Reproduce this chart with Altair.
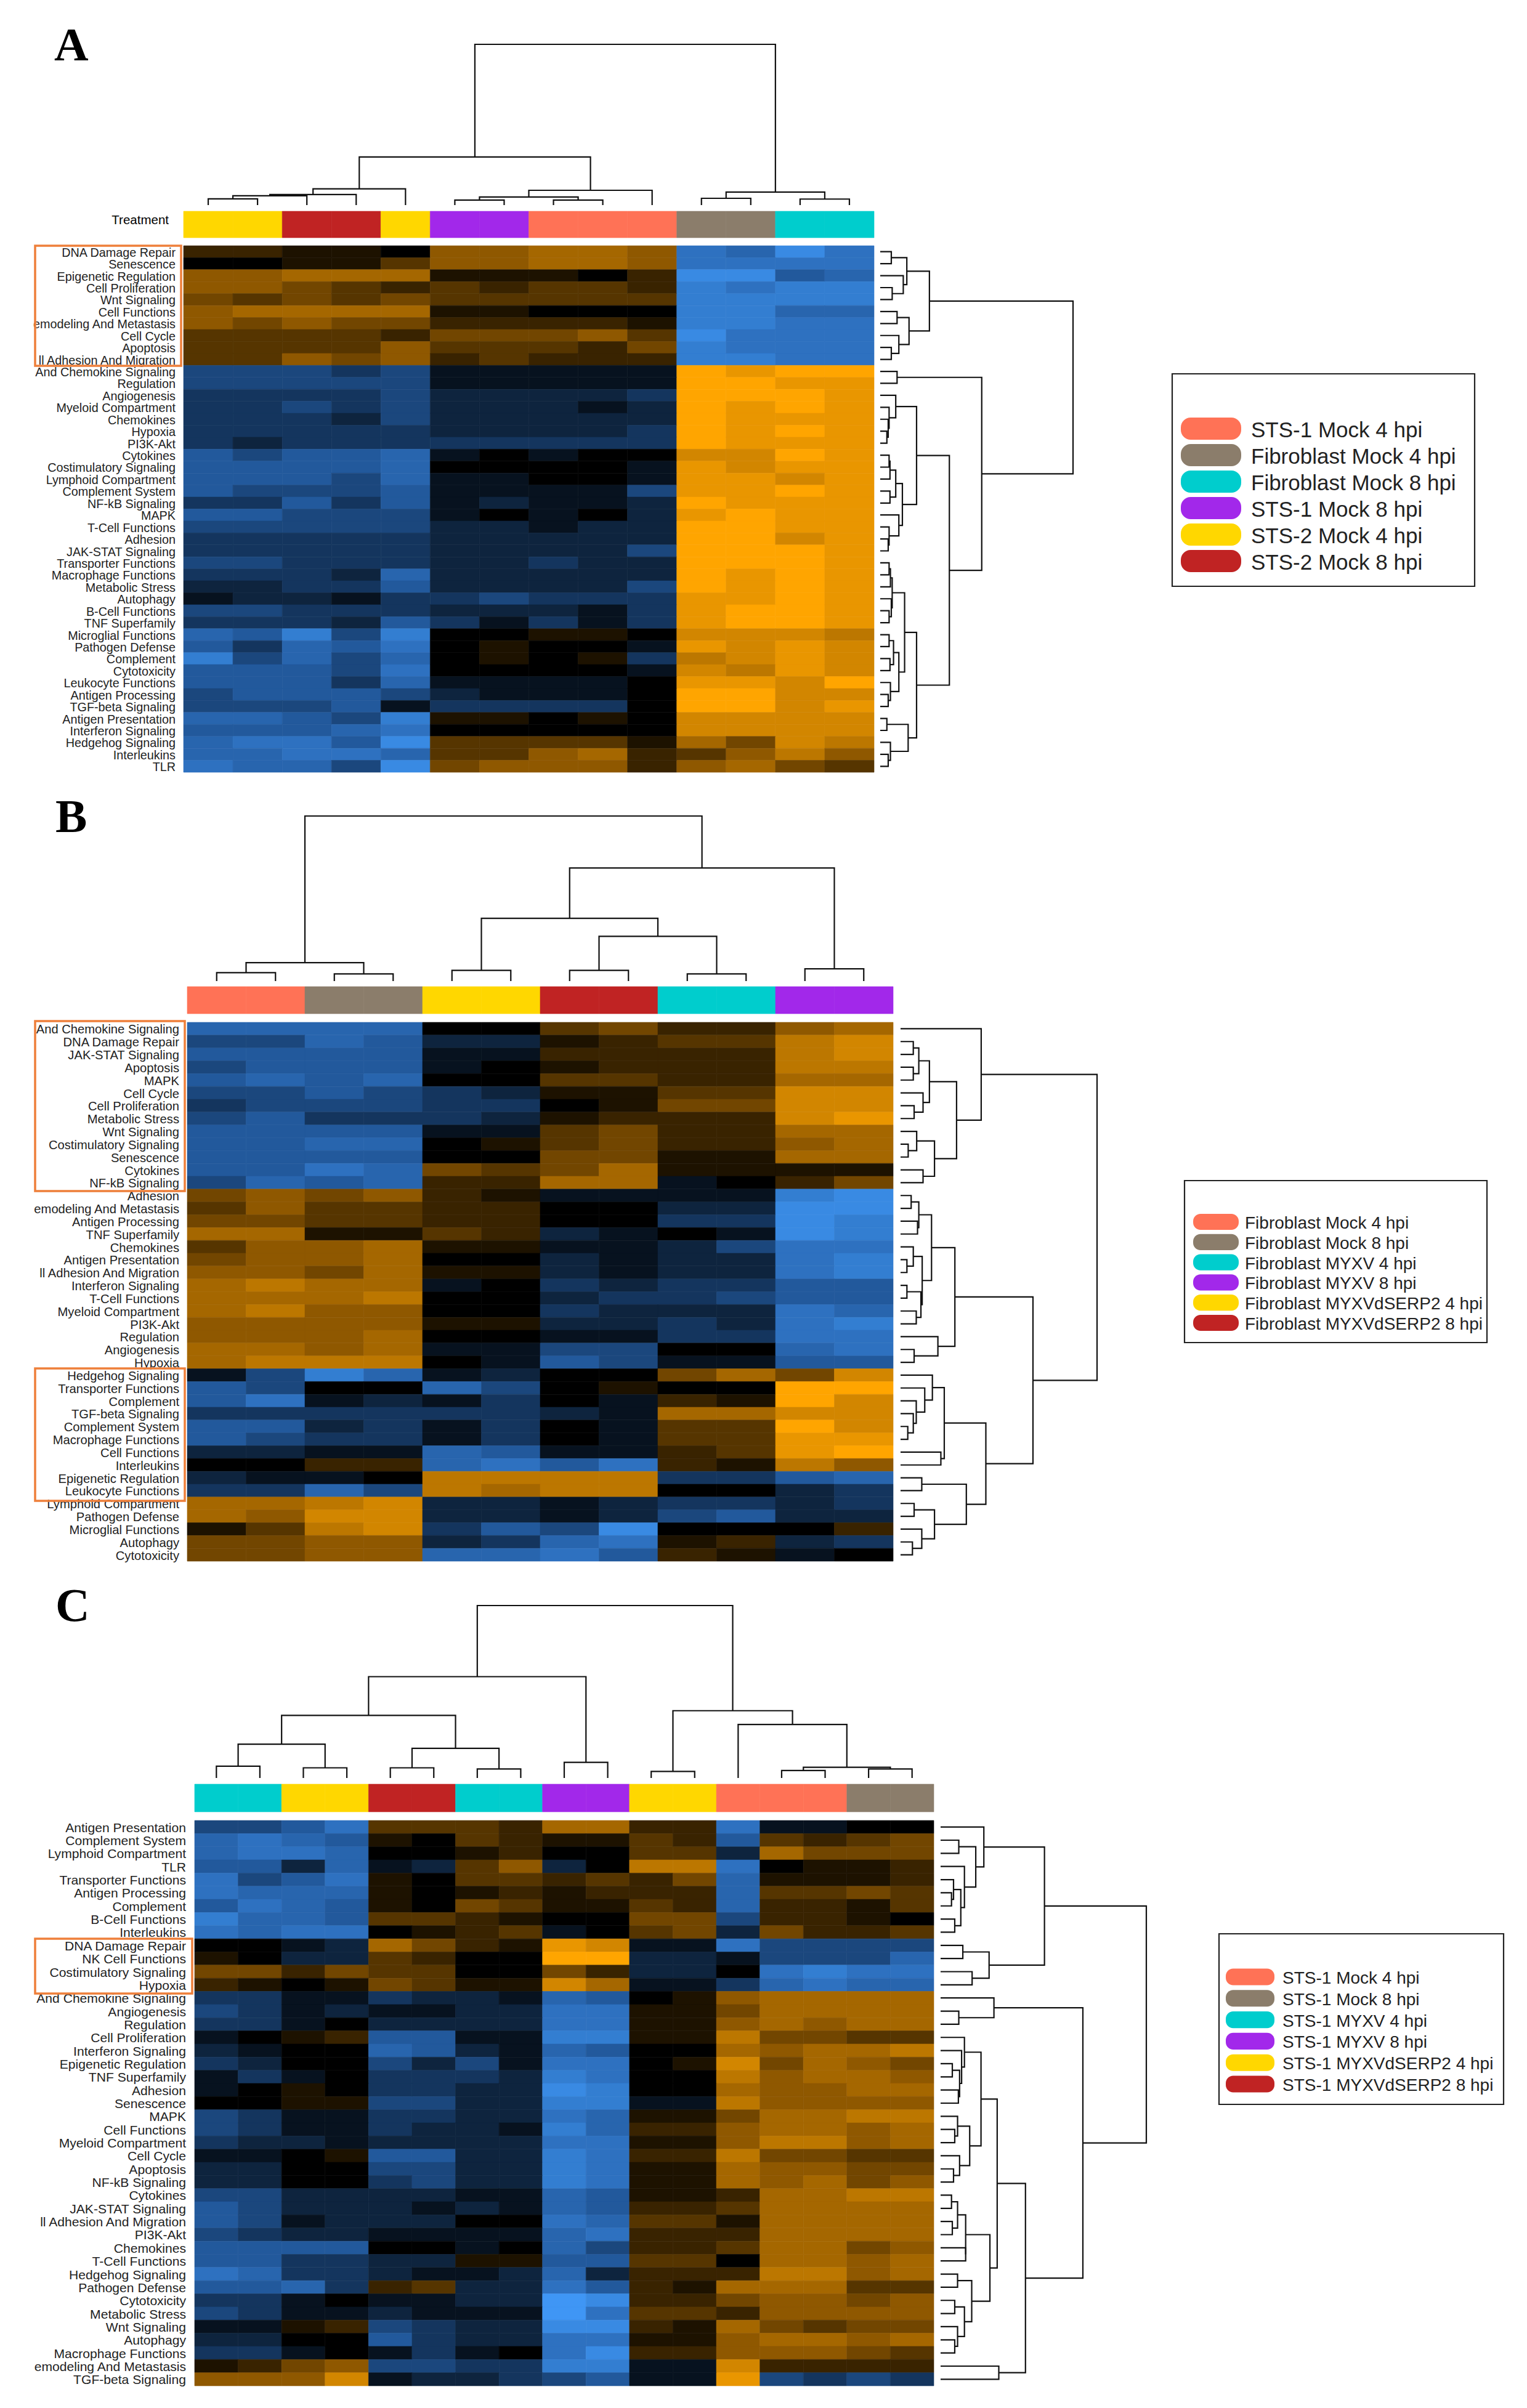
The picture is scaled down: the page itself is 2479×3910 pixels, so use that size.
import altair as alt
import pandas as pd

# ---------- palette ----------
SALMON, BROWN, CYAN, PURPLE, YELLOW, RED = "#FF7256", "#8B7D6B", "#00CDCD", "#A228EA", "#FFD700", "#C02323"
PALETTE = [SALMON, BROWN, CYAN, PURPLE, YELLOW, RED]
HEAT_DOMAIN = [-10, -5, 0, 5, 10]
HEAT_RANGE = ["#3F96F5", "#22599C", "#000000", "#8F5800", "#FFA500"]

# ---------- panel A ----------
A_ROWS = ["DNA Damage Repair", "Senescence", "Epigenetic Regulation", "Cell Proliferation", "Wnt Signaling",
          "Cell Functions", "emodeling And Metastasis", "Cell Cycle", "Apoptosis", "ll Adhesion And Migration",
          "And Chemokine Signaling", "Regulation", "Angiogenesis", "Myeloid Compartment", "Chemokines", "Hypoxia",
          "PI3K-Akt", "Cytokines", "Costimulatory Signaling", "Lymphoid Compartment", "Complement System",
          "NF-kB Signaling", "MAPK", "T-Cell Functions", "Adhesion", "JAK-STAT Signaling", "Transporter Functions",
          "Macrophage Functions", "Metabolic Stress", "Autophagy", "B-Cell Functions", "TNF Superfamily",
          "Microglial Functions", "Pathogen Defense", "Complement", "Cytotoxicity", "Leukocyte Functions",
          "Antigen Processing", "TGF-beta Signaling", "Antigen Presentation", "Interferon Signaling",
          "Hedgehog Signaling", "Interleukins", "TLR"]
A_COLS = [YELLOW, YELLOW, RED, RED, YELLOW, PURPLE, PURPLE, SALMON, SALMON, SALMON, BROWN, BROWN, CYAN, CYAN]
A_VALUES = [
    [2,2,1,1,0,5,5,6,6,5,-7,-6,-9,-7],
    [0,0,1,1,3,5,5,6,6,5,-7,-7,-7,-7],
    [5,5,6,6,6,1,1,1,0,2,-9,-9,-5,-6],
    [5,5,4,3,2,3,2,3,3,2,-8,-7,-8,-8],
    [4,3,4,3,4,3,3,3,3,3,-8,-8,-8,-8],
    [5,6,6,6,6,1,1,0,0,0,-8,-8,-6,-6],
    [5,4,5,4,4,2,2,2,2,1,-8,-8,-7,-7],
    [3,3,3,3,2,4,4,4,5,3,-9,-7,-7,-7],
    [3,3,3,3,5,3,3,3,2,4,-8,-7,-7,-7],
    [3,3,5,4,5,2,3,2,2,2,-8,-8,-7,-7],
    [-4,-4,-4,-3,-4,-1,-1,-1,-1,-1,10,9,10,10],
    [-4,-4,-4,-4,-4,-1,-1,-1,-1,-1,10,10,9,9],
    [-3,-3,-3,-3,-4,-2,-2,-2,-2,-3,10,10,10,9],
    [-3,-3,-4,-3,-4,-2,-2,-2,-1,-2,10,9,10,9],
    [-3,-3,-3,-2,-4,-2,-2,-2,-2,-2,10,9,9,9],
    [-3,-3,-3,-3,-3,-2,-2,-2,-2,-3,10,9,10,9],
    [-3,-2,-3,-3,-3,-3,-3,-3,-3,-3,10,9,9,9],
    [-5,-4,-5,-5,-6,-1,0,-1,0,0,8,8,10,9],
    [-5,-5,-5,-5,-6,0,0,0,0,-1,9,8,9,9],
    [-5,-5,-5,-4,-6,-1,-1,0,0,-1,9,9,8,9],
    [-5,-4,-4,-4,-5,-1,-1,-1,-1,-4,9,9,10,9],
    [-3,-3,-5,-3,-5,-1,-2,-1,-1,-2,10,9,9,9],
    [-5,-5,-4,-4,-4,-1,0,-1,0,-2,9,10,9,9],
    [-4,-4,-4,-4,-4,-2,-2,-1,-2,-2,10,10,9,9],
    [-3,-3,-3,-3,-3,-2,-2,-2,-2,-2,10,10,8,9],
    [-3,-3,-3,-3,-3,-2,-2,-2,-2,-4,10,10,10,9],
    [-4,-4,-3,-3,-3,-2,-2,-3,-2,-2,10,10,10,9],
    [-3,-3,-3,-2,-6,-2,-2,-2,-2,-2,10,9,10,9],
    [-2,-2,-3,-3,-5,-2,-2,-2,-2,-4,10,9,10,9],
    [-1,-2,-2,-1,-3,-3,-4,-3,-3,-3,9,9,10,9],
    [-4,-4,-3,-3,-3,-2,-2,-2,-1,-3,9,10,10,9],
    [-3,-3,-3,-2,-5,-3,-1,-3,-1,-3,9,10,10,9],
    [-6,-5,-8,-4,-8,0,0,1,1,0,8,8,8,7],
    [-5,-3,-6,-5,-7,0,1,0,0,-1,9,8,9,8],
    [-8,-4,-6,-4,-6,0,1,0,1,-3,7,8,9,8],
    [-5,-5,-5,-4,-7,0,0,0,0,-1,8,7,9,8],
    [-5,-5,-5,-3,-6,-1,-1,-1,-1,0,9,9,8,10],
    [-4,-5,-5,-5,-4,-2,-1,-1,-1,0,10,10,8,8],
    [-4,-4,-4,-5,-1,-3,-3,-3,-3,0,10,10,8,9],
    [-6,-6,-5,-4,-8,1,1,0,1,0,8,8,8,8],
    [-5,-5,-5,-6,-7,0,0,0,0,0,8,8,8,8],
    [-6,-7,-7,-5,-9,3,3,3,3,1,6,4,8,7],
    [-6,-6,-7,-7,-6,3,3,5,6,2,3,5,7,5],
    [-7,-6,-6,-4,-9,4,5,5,5,2,5,6,4,3],
]
A_TOP_TREE = [641,
              [192, [65, [42, [37, [25, 0, 1], 2], 3], 4], [59, [32, [20, 5, 6], [20, 7, 8]], 9]],
              [52, [27, 10, 11], [24, 12, 13]]]
A_ROW_TREE = [435,
              [111, [60, [25, 0, 1], [52, 2, [27, 3, 4]]], [65, [38, 5, 6], [42, 7, [25, 8, 9]]]],
              [229, [38, 10, 11],
               [156,
                [82, [35, 12, [20, 13, [18, 14, [15, 15, 16]]]],
                 [50, [35, [22, [20, 17, 18], 19], [22, 20, 21]], [42, 22, [20, 23, [18, 24, 25]]]]],
                [82,
                 [55, [27, [23, [20, 26, 27], 28], [25, 29, [20, 30, 31]]],
                  [42, [30, [20, 32, 33], [22, 34, 35]], [23, 36, [18, 37, 38]]]],
                 [63, [15, 39, 40], [23, 41, [18, 42, 43]]]]]]]
A_LEGEND = ["STS-1 Mock 4 hpi", "Fibroblast Mock 4 hpi", "Fibroblast Mock 8 hpi", "STS-1 Mock 8 hpi",
            "STS-2 Mock 4 hpi", "STS-2 Mock 8 hpi"]
A_LEGEND_COLORS = [SALMON, BROWN, CYAN, PURPLE, YELLOW, RED]

# ---------- panel B ----------
B_ROWS = ["And Chemokine Signaling", "DNA Damage Repair", "JAK-STAT Signaling", "Apoptosis", "MAPK", "Cell Cycle",
          "Cell Proliferation", "Metabolic Stress", "Wnt Signaling", "Costimulatory Signaling", "Senescence",
          "Cytokines", "NF-kB Signaling", "Adhesion", "emodeling And Metastasis", "Antigen Processing",
          "TNF Superfamily", "Chemokines", "Antigen Presentation", "ll Adhesion And Migration",
          "Interferon Signaling", "T-Cell Functions", "Myeloid Compartment", "PI3K-Akt", "Regulation",
          "Angiogenesis", "Hypoxia", "Hedgehog Signaling", "Transporter Functions", "Complement",
          "TGF-beta Signaling", "Complement System", "Macrophage Functions", "Cell Functions", "Interleukins",
          "Epigenetic Regulation", "Leukocyte Functions", "Lymphoid Compartment", "Pathogen Defense",
          "Microglial Functions", "Autophagy", "Cytotoxicity"]
B_COLS = [SALMON, SALMON, BROWN, BROWN, YELLOW, YELLOW, RED, RED, CYAN, CYAN, PURPLE, PURPLE]
B_VALUES = [
    [-6,-6,-6,-6,0,0,3,4,2,2,5,6],
    [-4,-4,-6,-5,-2,-2,1,2,3,3,7,8],
    [-5,-5,-5,-5,-1,-1,2,2,2,2,7,8],
    [-4,-5,-5,-5,-1,0,1,2,2,2,7,7],
    [-5,-6,-5,-6,0,0,3,3,2,2,6,6],
    [-4,-4,-5,-4,-3,-2,1,1,3,3,8,8],
    [-3,-4,-4,-4,-3,-3,0,1,4,4,8,8],
    [-4,-5,-3,-3,-3,-2,1,2,2,2,8,9],
    [-5,-5,-5,-5,-1,-1,3,4,2,2,6,6],
    [-5,-5,-6,-6,0,1,3,4,2,2,5,6],
    [-5,-5,-5,-5,0,0,4,4,1,1,6,6],
    [-5,-5,-7,-6,4,3,4,6,1,1,1,1],
    [-4,-6,-5,-6,2,2,6,6,-1,0,2,4],
    [4,5,4,5,2,1,-1,-1,-1,-1,-8,-9],
    [3,5,3,3,2,2,0,0,-2,-2,-9,-9],
    [4,4,3,3,2,2,0,0,-3,-3,-9,-8],
    [6,6,1,1,3,2,-2,-1,0,-1,-9,-8],
    [3,5,5,6,1,1,-1,-1,-2,-4,-7,-7],
    [4,5,5,6,0,0,-2,-1,-2,-2,-7,-8],
    [5,5,4,6,1,1,-2,-1,-2,-2,-7,-8],
    [6,7,6,6,-1,0,-3,-2,-3,-3,-5,-5],
    [6,6,6,7,0,0,-2,-3,-3,-4,-5,-5],
    [6,7,5,5,0,0,-3,-2,-2,-2,-7,-6],
    [5,5,5,5,1,1,-2,-2,-3,-2,-7,-8],
    [5,5,5,6,0,0,-1,-1,-3,-3,-7,-7],
    [6,6,5,6,-1,-1,-4,-4,0,0,-6,-7],
    [6,7,7,7,0,-1,-5,-4,-1,-1,-5,-5],
    [-1,-4,-8,-6,-1,-2,0,0,4,6,4,8],
    [-5,-4,0,0,-6,-4,0,1,0,0,10,10],
    [-5,-7,-1,-2,-1,-3,0,-1,2,1,10,8],
    [-3,-3,-3,-3,-3,-3,-2,-1,6,6,8,8],
    [-5,-5,-2,-3,-1,-3,0,-1,3,3,10,8],
    [-5,-4,-3,-3,-1,-3,0,-1,3,3,9,9],
    [-2,-2,-1,-1,-6,-5,-1,-1,2,3,9,10],
    [0,0,2,2,-6,-7,-5,-7,2,1,7,5],
    [-2,-1,-1,0,7,7,7,7,-3,-3,-5,-6],
    [-3,-3,-6,-4,7,6,7,7,0,0,-2,-3],
    [6,6,7,8,-2,-2,-1,-2,-3,-3,-2,-3],
    [6,5,8,8,-2,-2,-1,-2,-4,-5,-2,-2],
    [1,3,7,8,-3,-5,-4,-9,0,0,0,2],
    [4,4,5,5,-2,-3,-6,-7,1,2,-2,-3],
    [4,4,5,5,-6,-6,-7,-5,2,1,-1,0],
]
B_TOP_TREE = [645,
              [72, [33, 0, 1], [28, 2, 3]],
              [442, [245, [42, 4, 5], [175, [42, 6, 7], [28, 8, 9]]], [48, 10, 11]]]
B_ROW_TREE = [463,
              [190, 0,
               [132,
                [68, [43, [30, 1, 2], [30, 3, 4]], [53, 5, [32, 6, 7]]],
                [80, [38, 8, [18, 9, 10]], [53, 11, 12]]]],
              [312,
               [128,
                [73, [43, [25, 13, 14], [40, 15, 16]],
                 [51, [30, 17, [15, 18, 19]], [48, [15, 20, 21], [37, 22, 23]]]],
                [88, 24, [32, 25, 26]]],
               [201,
                [103, [75, 27, [57, 28, [37, 29, [30, 30, [17, 31, 32]]]]], [95, 33, 34]],
                [155, [50, 35, 36], [80, [32, 37, 38], [50, 39, [28, 40, 41]]]]]]]
B_LEGEND = ["Fibroblast Mock 4 hpi", "Fibroblast Mock 8 hpi", "Fibroblast MYXV 4 hpi", "Fibroblast MYXV 8 hpi",
            "Fibroblast MYXVdSERP2 4 hpi", "Fibroblast MYXVdSERP2 8 hpi"]
B_LEGEND_COLORS = [SALMON, BROWN, CYAN, PURPLE, YELLOW, RED]

# ---------- panel C ----------
C_ROWS = ["Antigen Presentation", "Complement System", "Lymphoid Compartment", "TLR", "Transporter Functions",
          "Antigen Processing", "Complement", "B-Cell Functions", "Interleukins", "DNA Damage Repair",
          "NK Cell Functions", "Costimulatory Signaling", "Hypoxia", "And Chemokine Signaling", "Angiogenesis",
          "Regulation", "Cell Proliferation", "Interferon Signaling", "Epigenetic Regulation", "TNF Superfamily",
          "Adhesion", "Senescence", "MAPK", "Cell Functions", "Myeloid Compartment", "Cell Cycle", "Apoptosis",
          "NF-kB Signaling", "Cytokines", "JAK-STAT Signaling", "ll Adhesion And Migration", "PI3K-Akt",
          "Chemokines", "T-Cell Functions", "Hedgehog Signaling", "Pathogen Defense", "Cytotoxicity",
          "Metabolic Stress", "Wnt Signaling", "Autophagy", "Macrophage Functions", "emodeling And Metastasis",
          "TGF-beta Signaling"]
C_COLS = [CYAN, CYAN, YELLOW, YELLOW, RED, RED, CYAN, CYAN, PURPLE, PURPLE, YELLOW, YELLOW,
          SALMON, SALMON, SALMON, BROWN, BROWN]
C_VALUES = [
    [-4,-4,-5,-7,3,3,3,2,6,6,2,2,-7,-1,-1,0,0],
    [-6,-7,-6,-5,1,0,3,2,1,1,3,2,-5,3,2,3,4],
    [-6,-7,-7,-6,0,0,1,2,0,0,3,3,-2,6,4,4,4],
    [-5,-5,-2,-6,-1,-2,3,5,-2,0,7,7,-7,0,1,1,2],
    [-7,-4,-5,-7,1,0,3,3,2,3,2,4,-6,1,1,1,2],
    [-7,-6,-6,-6,1,0,1,2,1,2,2,2,-6,3,3,4,3],
    [-5,-7,-6,-5,1,0,4,3,1,1,3,2,-6,2,2,1,3],
    [-8,-6,-6,-5,3,3,2,1,0,0,4,4,-4,2,2,1,0],
    [-7,-6,-7,-7,0,1,2,3,-1,0,3,4,-2,4,2,2,3],
    [0,0,-1,-2,6,4,2,1,9,8,-1,-1,-7,-4,-4,-4,-4],
    [1,0,-2,-2,3,2,0,0,10,10,-2,-2,-1,-4,-4,-4,-6],
    [4,4,2,4,3,3,0,0,4,2,-2,-2,0,-7,-8,-7,-7],
    [2,1,0,1,4,3,1,1,8,6,-1,-1,-3,-6,-7,-6,-6],
    [-3,-3,-1,-1,-3,-2,-2,-1,-6,-5,0,1,5,6,6,6,6],
    [-4,-3,-1,-2,-1,-1,-2,-2,-7,-7,1,1,4,6,6,6,6],
    [-3,-3,-1,0,-2,-2,-2,-2,-7,-7,1,1,5,6,5,6,6],
    [-1,0,1,2,-5,-5,-1,-1,-8,-8,1,1,7,4,4,3,3],
    [-2,-1,0,0,-6,-5,-2,-1,-6,-5,0,0,6,5,6,6,7],
    [-3,-2,0,0,-4,-2,-4,-1,-7,-7,0,1,8,4,6,5,4],
    [-1,-3,-1,0,-3,-3,-3,-2,-8,-7,0,0,7,5,6,6,5],
    [-1,0,1,0,-3,-3,-2,-2,-9,-8,0,0,6,5,5,6,6],
    [0,0,1,1,-4,-4,-2,-2,-8,-8,-1,-1,7,5,5,5,5],
    [-4,-3,-1,-1,-3,-3,-2,-2,-7,-6,1,1,4,6,6,7,7],
    [-4,-3,-1,-1,-3,-2,-2,-1,-8,-6,2,2,5,6,6,5,6],
    [-3,-2,-2,-1,-2,-2,-2,-2,-7,-7,1,1,5,7,7,5,6],
    [-1,-1,0,1,-5,-5,-2,-2,-8,-7,2,2,7,4,4,3,3],
    [-2,-2,0,0,-4,-4,-2,-2,-8,-7,1,1,6,5,5,4,4],
    [-2,-2,0,0,-3,-4,-2,-2,-8,-7,1,1,6,5,6,4,5],
    [-4,-4,-2,-2,-2,-2,-1,-1,-6,-5,1,1,2,6,6,7,7],
    [-5,-4,-2,-2,-2,-1,-2,-1,-6,-5,2,2,3,6,6,6,6],
    [-5,-4,-1,-2,-2,-2,0,0,-7,-6,3,3,1,6,6,6,6],
    [-4,-3,-2,-2,-1,-1,-1,-1,-6,-7,2,2,2,6,6,6,6],
    [-5,-5,-5,-5,0,0,-1,0,-6,-4,2,2,3,6,6,4,5],
    [-5,-5,-3,-3,-2,-2,1,1,-5,-5,3,3,0,6,6,5,6],
    [-7,-6,-3,-3,-2,-1,-1,-2,-6,-2,2,2,2,7,7,5,6],
    [-5,-5,-6,-3,2,3,-2,-2,-7,-5,2,1,6,6,6,3,3],
    [-3,-3,-1,0,-1,-1,-2,-2,-10,-9,2,2,4,5,5,4,5],
    [-4,-3,-1,-1,-2,-1,-1,-1,-10,-7,3,3,2,5,5,5,5],
    [-1,-1,1,2,-4,-3,-2,-2,-9,-9,2,1,6,4,3,4,4],
    [-2,-2,0,0,-5,-3,-2,-2,-7,-7,1,1,5,6,6,5,6],
    [-3,-3,-1,0,-1,-3,-1,0,-7,-9,2,2,5,5,5,4,3],
    [1,2,4,5,-4,-4,-3,-3,-8,-8,-1,-1,8,2,2,2,2],
    [5,5,5,8,-1,-2,-2,-3,-4,-5,-1,-1,9,-4,-3,-4,-3],
]
C_TOP_TREE = [628,
              [369, [228, [123, [43, 0, 1], [37, 2, 3]], [108, [37, 4, 5], [33, 6, 7]]], [57, 8, 9]],
              [245, [24, 10, 11], [195, 12, [39, [27, 13, 14], [33, 15, 16]]]]]
C_ROW_TREE = [509,
              [257,
               [107, 0, [87, [45, 1, 2], [59, 3, [50, [32, 4, [27, 5, 6]], [35, 7, 8]]]]],
               [120, [55, 9, 10], [78, 11, 12]]],
              [352,
               [132, 13, [45, 14, 15]],
               [210,
                [140,
                 [100,
                  [59, 16, [52, 17, [47, [29, 18, 19], [44, 20, 21]]]],
                  [72, [42, 22, [35, 23, 24]], [47, 25, [32, 26, 27]]]],
                 [122,
                  [62, [42, [27, 28, 29], [29, 30, 31]], [62, 32, 33]],
                  [77, [42, 34, 35], [59, [35, 36, 37], [42, 38, [35, 39, 40]]]]]],
                [144, 41, 42]]]]
C_LEGEND = ["STS-1 Mock 4 hpi", "STS-1 Mock 8 hpi", "STS-1 MYXV 4 hpi", "STS-1 MYXV 8 hpi",
            "STS-1 MYXVdSERP2 4 hpi", "STS-1 MYXVdSERP2 8 hpi"]
C_LEGEND_COLORS = [SALMON, BROWN, CYAN, PURPLE, YELLOW, RED]

M = 8  # page margin
INK = "#222222"
BOX = "#EE7F3A"
IDENTITY = alt.Scale(domain=PALETTE, range=PALETTE)


def tree_lines(tree):
    """Walk a [height, left, right] tree into U-shaped polylines in (leaf position, height) units."""
    rows = []
    counter = [0]

    def walk(node):
        if isinstance(node, int):
            return node + 0.5, 0
        h, left, right = node
        xl, hl = walk(left)
        xr, hr = walk(right)
        counter[0] += 1
        nid = counter[0]
        for seq, (p, v) in enumerate([(xl, hl), (xl, h), (xr, h), (xr, hr)]):
            rows.append({"node": nid, "seq": seq, "pos": p, "h": v})
        return (xl + xr) / 2, h

    walk(tree)
    return pd.DataFrame(rows)


def line_layer(tree, n, pos_range, h_range, horizontal):
    pos_s = alt.Scale(domain=[0, n], range=[pos_range[0] - M, pos_range[1] - M], nice=False, zero=False)
    h_s = alt.Scale(domain=[0, tree[0]], range=[h_range[0] - M, h_range[1] - M], nice=False, zero=False)
    base = alt.Chart(tree_lines(tree)).mark_line(color="#111111", strokeWidth=2.2, strokeJoin="miter")
    if horizontal:
        return base.encode(x=alt.X("pos:Q", scale=pos_s, axis=None), y=alt.Y("h:Q", scale=h_s, axis=None),
                           detail="node:N", order="seq:Q")
    return base.encode(x=alt.X("h:Q", scale=h_s, axis=None), y=alt.Y("pos:Q", scale=pos_s, axis=None),
                       detail="node:N", order="seq:Q")


def panel(rows, cols, values, x0, x1, bar0, bar1, y0, y1, label_x, label_size,
          top_tree, leaf_y, root_y, row_tree, leaf_x, root_x):
    n = len(cols)
    col_ids = list(range(n))
    x_s = alt.Scale(type="band", domain=col_ids, range=[x0 - M, x1 - M], padding=0)
    y_s = alt.Scale(type="band", domain=rows, range=[y0 - M, y1 - M], padding=0)
    long = pd.DataFrame([{"row": r, "col": c, "v": values[i][c]} for i, r in enumerate(rows) for c in col_ids])
    ramp = alt.Scale(domain=HEAT_DOMAIN, range=HEAT_RANGE, interpolate="rgb")
    heat = alt.Chart(long).mark_rect(strokeWidth=0.6).encode(
        x=alt.X("col:O", scale=x_s, axis=None), y=alt.Y("row:N", scale=y_s, axis=None),
        color=alt.Color("v:Q", scale=ramp, legend=None), stroke=alt.Stroke("v:Q", scale=ramp, legend=None))
    bar_df = pd.DataFrame({"col": col_ids, "group": cols})
    bar = alt.Chart(bar_df).mark_rect(strokeWidth=0.6).encode(
        x=alt.X("col:O", scale=x_s, axis=None),
        y=alt.value(bar0 - M), y2=alt.value(bar1 - M),
        color=alt.Color("group:N", scale=IDENTITY, legend=None),
        stroke=alt.Stroke("group:N", scale=IDENTITY, legend=None))
    labels = alt.Chart(pd.DataFrame({"row": rows})).mark_text(
        align="right", baseline="middle", dy=2, fontSize=label_size, font="Liberation Sans", color=INK).encode(
        x=alt.value(label_x - M), y=alt.Y("row:N", scale=y_s, axis=None), text="row:N")
    top = line_layer(top_tree, n, (x0, x1), (leaf_y, root_y), True)
    side = line_layer(row_tree, len(rows), (y0, y1), (leaf_x, root_x), False)
    return [heat, bar, labels, top, side]


def legend(entries, colors, box, swatch_x, text_x, first, last, pad, font_size, radius):
    step = (last - first) / (len(entries) - 1)
    y_s = alt.Scale(type="band", domain=entries, range=[first - step / 2 - M, last + step / 2 - M],
                    paddingInner=pad, paddingOuter=pad / 2)
    df = pd.DataFrame({"name": entries, "hex": colors})
    frame = alt.Chart(alt.Data(values=[{"k": 1}])).mark_rect(fill="white", stroke="#222222", strokeWidth=2.2).encode(
        x=alt.value(box[0] - M), x2=alt.value(box[1] - M), y=alt.value(box[2] - M), y2=alt.value(box[3] - M))
    swatch = alt.Chart(df).mark_rect(cornerRadius=radius).encode(
        x=alt.value(swatch_x[0] - M), x2=alt.value(swatch_x[1] - M),
        y=alt.Y("name:N", scale=y_s, axis=None), color=alt.Color("hex:N", scale=IDENTITY, legend=None))
    text = alt.Chart(df).mark_text(align="left", baseline="middle", dy=3, fontSize=font_size,
                                   font="Liberation Sans", color=INK).encode(
        x=alt.value(text_x - M), y=alt.Y("name:N", scale=y_s, axis=None), text="name:N")
    return [frame, swatch, text]


def highlight(x0, x1, y0, y1):
    return alt.Chart(alt.Data(values=[{"k": 1}])).mark_rect(fillOpacity=0, stroke=BOX, strokeWidth=3.5).encode(
        x=alt.value(x0 - M), x2=alt.value(x1 - M), y=alt.value(y0 - M), y2=alt.value(y1 - M))


def note(text, x, y, size, font, weight="normal", align="left"):
    return alt.Chart(alt.Data(values=[{"t": text}])).mark_text(
        align=align, baseline="alphabetic", fontSize=size, font=font, fontWeight=weight, color="#000000").encode(
        x=alt.value(x - M), y=alt.value(y - M), text="t:N")


layers = []
layers += panel(A_ROWS, A_COLS, A_VALUES, 298, 1419, 343, 386, 399, 1254, 285, 19.8,
                A_TOP_TREE, 333, 72, A_ROW_TREE, 1429, 1742)
layers += panel(B_ROWS, B_COLS, B_VALUES, 304, 1450, 1602, 1646, 1660, 2535, 291, 20.2,
                B_TOP_TREE, 1593, 1325, B_ROW_TREE, 1462, 1781)
layers += panel(C_ROWS, C_COLS, C_VALUES, 316, 1516, 2897, 2942, 2956, 3874, 302, 21.1,
                C_TOP_TREE, 2887, 2607, C_ROW_TREE, 1527, 1861)
layers += legend(A_LEGEND, A_LEGEND_COLORS, (1903, 2394, 607, 952), (1917, 2015), 2031, 696, 911, 0.16, 35, 16)
layers += legend(B_LEGEND, B_LEGEND_COLORS, (1923, 2414, 1917, 2180), (1937, 2011), 2021, 1984, 2148, 0.2, 28, 12)
layers += legend(C_LEGEND, C_LEGEND_COLORS, (1979, 2441, 3140, 3417), (1990, 2069), 2082, 3210, 3384, 0.22, 28, 12)
layers += [highlight(57, 294, 399, 594), highlight(57, 300, 1658, 1934), highlight(57, 300, 2222, 2437),
           highlight(57, 312, 3148, 3237)]
layers += [note("A", 88, 98, 77, "Liberation Serif", "bold"), note("B", 90, 1351, 77, "Liberation Serif", "bold"),
           note("C", 90, 2632, 77, "Liberation Serif", "bold"),
           note("Treatment", 274, 364, 20.5, "Liberation Sans", align="right")]

chart = alt.layer(*layers).resolve_scale(x="independent", y="independent", color="independent",
                                         stroke="independent").properties(
    width=2463, height=3894, padding=0, background="white").configure_view(stroke=None)

chart.save("out.html", embed_options={"renderer": "svg", "actions": False})
